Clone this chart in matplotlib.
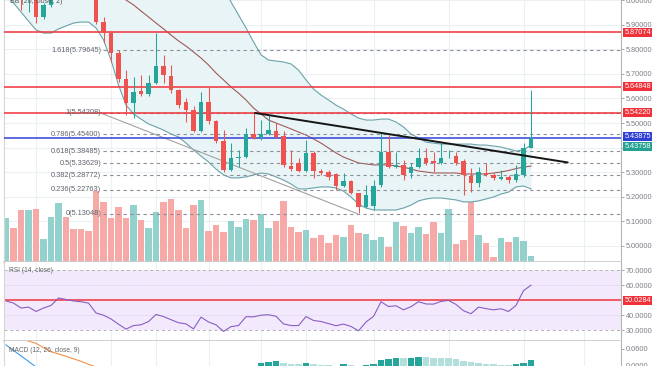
import numpy as np
import matplotlib
matplotlib.use("Agg")
import matplotlib.pyplot as plt
from matplotlib.transforms import blended_transform_factory, Affine2D
from matplotlib.ticker import FixedLocator, FuncFormatter

plt.rcParams['font.family'] = ['Liberation Sans', 'DejaVu Sans']

# ---------------- data ----------------
opens = [6.03, 6.06, 6.04, 6.01, 6.04, 5.934, 5.982, 6.03, 6.08, 6.07,
         6.06, 6.05, 6.03, 5.914, 5.866, 5.784, 5.678, 5.580, 5.630, 5.618,
         5.665, 5.734, 5.692, 5.636, 5.587, 5.553, 5.469, 5.585, 5.508, 5.426,
         5.310, 5.358, 5.360, 5.456, 5.440, 5.455, 5.469, 5.447, 5.326, 5.338,
         5.304, 5.376, 5.306, 5.299, 5.291, 5.241, 5.262, 5.213, 5.158, 5.160,
         5.245, 5.383, 5.322, 5.330, 5.295, 5.322, 5.356, 5.345, 5.336, 5.364,
         5.366, 5.344, 5.285, 5.256, 5.295, 5.288, 5.272, 5.281, 5.267, 5.288,
         5.397]
closes = [6.06, 6.02, 6.01, 6.04, 5.934, 5.982, 6.03, 6.08, 6.07, 6.06,
          6.05, 6.03, 5.914, 5.866, 5.784, 5.678, 5.580, 5.628, 5.618, 5.665,
          5.734, 5.696, 5.634, 5.575, 5.553, 5.469, 5.585, 5.508, 5.426, 5.310,
          5.358, 5.361, 5.456, 5.440, 5.455, 5.470, 5.443, 5.328, 5.312, 5.304,
          5.376, 5.304, 5.295, 5.281, 5.241, 5.262, 5.213, 5.158, 5.207, 5.243,
          5.383, 5.322, 5.330, 5.288, 5.322, 5.356, 5.336, 5.336, 5.356, 5.367,
          5.336, 5.288, 5.256, 5.301, 5.288, 5.274, 5.281, 5.267, 5.290, 5.397,
          5.438]
highs = [6.08, 6.07, 6.05, 6.05, 6.05, 5.99, 6.05, 6.10, 6.09, 6.08,
         6.07, 6.06, 6.04, 5.934, 5.870, 5.798, 5.716, 5.689, 5.696, 5.696,
         5.866, 5.777, 5.737, 5.640, 5.600, 5.569, 5.628, 5.646, 5.511, 5.471,
         5.417, 5.390, 5.478, 5.540, 5.511, 5.532, 5.499, 5.467, 5.390, 5.356,
         5.430, 5.385, 5.314, 5.308, 5.295, 5.295, 5.268, 5.216, 5.247, 5.267,
         5.458, 5.451, 5.383, 5.350, 5.335, 5.397, 5.397, 5.383, 5.417, 5.390,
         5.383, 5.352, 5.315, 5.322, 5.335, 5.295, 5.308, 5.288, 5.328, 5.417,
         5.635]
lows = [6.01, 6.005, 5.961, 5.954, 5.907, 5.925, 5.975, 6.02, 6.05, 6.05,
        6.04, 6.02, 5.905, 5.825, 5.750, 5.669, 5.533, 5.519, 5.612, 5.612,
        5.661, 5.664, 5.621, 5.560, 5.505, 5.463, 5.463, 5.497, 5.417, 5.302,
        5.305, 5.322, 5.356, 5.436, 5.430, 5.452, 5.440, 5.322, 5.306, 5.300,
        5.300, 5.274, 5.288, 5.267, 5.227, 5.238, 5.209, 5.131, 5.152, 5.145,
        5.240, 5.315, 5.315, 5.267, 5.275, 5.316, 5.329, 5.302, 5.333, 5.356,
        5.329, 5.206, 5.220, 5.240, 5.284, 5.267, 5.267, 5.254, 5.260, 5.281,
        5.397]
volumes = [44, 34, 52, 52, 53, 23, 45, 59, 45, 33,
           33, 31, 71, 60, 44, 55, 44, 57, 42, 34,
           50, 60, 63, 52, 34, 57, 62, 31, 37, 30,
           41, 35, 43, 42, 48, 34, 41, 61, 35, 30,
           32, 24, 27, 19, 27, 25, 37, 29, 28, 22,
           25, 15, 40, 36, 29, 35, 28, 40, 29, 53,
           18, 22, 60, 27, 19, 5, 24, 20, 25, 21, 6]
bb_upper = [6.31, 6.31, 6.32, 6.32, 6.32, 6.32, 6.32, 6.31, 6.31, 6.31,
            6.31, 6.31, 6.31, 6.31, 6.31, 6.31, 6.31, 6.31, 6.31, 6.31,
            6.31, 6.31, 6.30, 6.30, 6.28, 6.25, 6.21, 6.156, 6.102, 6.048,
            5.994, 5.941, 5.888, 5.831, 5.778, 5.757, 5.753, 5.749, 5.741, 5.716,
            5.676, 5.639, 5.614, 5.594, 5.573, 5.557, 5.537, 5.520, 5.512, 5.512,
            5.516, 5.516, 5.504, 5.484, 5.455, 5.439, 5.422, 5.418, 5.414, 5.414,
            5.414, 5.414, 5.414, 5.410, 5.410, 5.406, 5.402, 5.394, 5.386, 5.390,
            5.410]
bb_basis = [6.10, 6.10, 6.10, 6.10, 6.10, 6.09, 6.09, 6.09, 6.09, 6.09,
            6.08, 6.08, 6.07, 6.06, 6.04, 6.02, 6.002, 5.982, 5.957, 5.933,
            5.908, 5.884, 5.859, 5.835, 5.814, 5.790, 5.765, 5.737, 5.704, 5.676,
            5.647, 5.622, 5.594, 5.561, 5.537, 5.512, 5.500, 5.488, 5.476, 5.463,
            5.451, 5.435, 5.418, 5.398, 5.378, 5.361, 5.349, 5.337, 5.333, 5.329,
            5.329, 5.329, 5.324, 5.320, 5.312, 5.304, 5.300, 5.296, 5.296, 5.296,
            5.296, 5.292, 5.292, 5.292, 5.292, 5.296, 5.300, 5.306, 5.314, 5.320,
            5.324]
bb_lower = [6.022, 5.990, 5.953, 5.916, 5.880, 5.867, 5.867, 5.884, 5.896, 5.908,
            5.912, 5.912, 5.888, 5.839, 5.757, 5.655, 5.573, 5.537, 5.516, 5.496,
            5.484, 5.471, 5.455, 5.443, 5.418, 5.390, 5.365, 5.341, 5.312, 5.288,
            5.276, 5.276, 5.280, 5.288, 5.296, 5.292, 5.280, 5.267, 5.251, 5.231,
            5.231, 5.235, 5.239, 5.239, 5.235, 5.222, 5.198, 5.169, 5.153, 5.145,
            5.145, 5.145, 5.145, 5.153, 5.165, 5.182, 5.190, 5.194, 5.194, 5.190,
            5.186, 5.178, 5.178, 5.182, 5.190, 5.198, 5.210, 5.218, 5.239, 5.243,
            5.231]
rsi = [49.5, 48.1, 44.8, 45.4, 42.5, 44.8, 46.5, 51.5, 50.5, 49.5,
       49.0, 48.1, 41.5, 40.0, 37.5, 34.0, 30.7, 33.1, 33.6, 35.8,
       40.5, 39.1, 37.0, 35.0, 34.2, 30.9, 38.7, 35.5, 33.6, 29.2,
       32.4, 33.1, 39.0, 38.9, 40.0, 40.3, 39.3, 34.2, 33.1, 33.1,
       39.1, 36.5, 35.8, 34.4, 33.0, 34.1, 32.5, 29.6, 35.5, 39.2,
       49.0, 45.8, 46.3, 43.6, 45.7, 49.0, 47.5, 47.4, 49.2, 49.9,
       47.2, 43.0, 41.0, 45.4, 44.4, 43.6, 44.3, 42.5, 46.5, 56.4, 60.0]
macd_line = [0.0745, 0.0549, 0.0353, 0.0156, -0.004, -0.018, -0.028, -0.032, -0.036, -0.040,
             -0.044, -0.049, -0.060, -0.072, -0.086, -0.102, -0.118, -0.126, -0.132, -0.133,
             -0.128, -0.126, -0.127, -0.130, -0.133, -0.140, -0.134, -0.134, -0.139, -0.150,
             -0.152, -0.150, -0.140, -0.131, -0.122, -0.113, -0.107, -0.110, -0.112, -0.113,
             -0.108, -0.109, -0.109, -0.110, -0.113, -0.111, -0.113, -0.118, -0.115, -0.108,
             -0.093, -0.086, -0.079, -0.077, -0.072, -0.065, -0.061, -0.058, -0.054, -0.050,
             -0.049, -0.052, -0.056, -0.055, -0.055, -0.056, -0.056, -0.057, -0.055, -0.046,
             -0.035]
macd_signal = [0.110, 0.103, 0.096, 0.088, 0.080, 0.0647, 0.0505, 0.0422, 0.0338, 0.0251,
               0.0160, 0.0051, -0.004, -0.015, -0.027, -0.040, -0.055, -0.069, -0.081, -0.091,
               -0.099, -0.104, -0.109, -0.112, -0.115, -0.120, -0.122, -0.124, -0.127, -0.131,
               -0.135, -0.138, -0.139, -0.138, -0.135, -0.131, -0.127, -0.124, -0.121, -0.119,
               -0.117, -0.115, -0.114, -0.113, -0.113, -0.112, -0.112, -0.113, -0.113, -0.112,
               -0.109, -0.105, -0.101, -0.097, -0.093, -0.089, -0.085, -0.081, -0.077, -0.073,
               -0.069, -0.066, -0.064, -0.063, -0.062, -0.061, -0.060, -0.058, -0.055, -0.053,
               -0.049]
macd_hist = [-0.036, -0.048, -0.061, -0.072, -0.084, -0.083, -0.079, -0.074, -0.070, -0.065,
             -0.060, -0.054, -0.056, -0.057, -0.059, -0.062, -0.063, -0.057, -0.051, -0.042,
             -0.029, -0.022, -0.018, -0.018, -0.018, -0.021, -0.012, -0.010, -0.012, -0.019,
             -0.017, -0.011, -0.003, -0.001, 0.0091, 0.0149, 0.0164, 0.0091, 0.0065, 0.0055,
             0.0113, 0.0055, 0.0029, 0.0011, 0.0003, 0.0047, 0.0011, 0.0003, 0.0011, 0.0065,
             0.0193, 0.0247, 0.0284, 0.0262, 0.0284, 0.0320, 0.0302, 0.0284, 0.0276, 0.0273,
             0.0229, 0.0164, 0.0120, 0.0095, 0.0073, 0.0058, 0.0040, 0.0029, 0.0058, 0.0113,
             0.0193]

fib_ratios = ['1.618', '1', '0.786', '0.618', '0.5', '0.382', '0.236', '0']
fib_prices = [5.79645, 5.54208, 5.45400, 5.38485, 5.33629, 5.28772, 5.22763, 5.13048]
red_levels = [5.87074, 5.64848, 5.54220]
blue_level = 5.43875
last_price = 5.43758
rsi_mid_level = 50.0284
trend_x = [33.2, 74.9]
trend_y = [5.541, 5.339]
fib_trend_x = [12.5, 46.8]
fib_trend_y = [5.54208, 5.13048]
fib_start = 12.9
price_ticks = [5.0, 5.1, 5.2, 5.3, 5.4, 5.5, 5.6, 5.7, 5.8, 5.9, 6.0]
rsi_ticks = [30, 40, 60, 70]
macd_ticks = [0.0, 0.06]
time_grid = [4, 14, 20, 27, 34, 40, 49, 59, 69, 77]

# ---------------- styling ----------------
UP, DN = '#26a69a', '#ef5350'
UPV, DNV = '#93d2cc', '#f7a9a7'
GRID = '#eceff3'
LBL = '#7b7e87'
FS = 5.3
RED = '#f0313a'

W, H = 654, 366
fig = plt.figure(figsize=(W / 100, H / 100), dpi=100)
fig.patch.set_facecolor('white')
X0, X1 = 4, 621


def ax_rect(top, bottom):
    return [X0 / W, 1 - bottom / H, (X1 - X0) / W, (bottom - top) / H]


ax = fig.add_axes(ax_rect(0, 262))
ax_rsi = fig.add_axes(ax_rect(262, 341))
ax_macd = fig.add_axes(ax_rect(341, 366))

n = len(closes)
idx = np.arange(n)
o = np.array(opens); c = np.array(closes)
hi = np.array(highs); lo = np.array(lows)
up = c >= o
XLIM = (-0.27, 82.0)

for a in (ax, ax_rsi, ax_macd):
    a.set_xlim(*XLIM)
    a.xaxis.set_major_locator(FixedLocator(time_grid))
    a.tick_params(axis='x', length=0, labelbottom=False)
    a.grid(axis='x', color=GRID, lw=0.8, zorder=0)
    a.yaxis.tick_right()
    a.tick_params(axis='y', length=2.2, width=0.6, color='#9a9a9a',
                  labelsize=FS, labelcolor=LBL, pad=1.4)
    a.spines['top'].set_visible(False)
    a.spines['left'].set_color('#d6d6d6')
    a.spines['right'].set_color('#b5b5b5')
    a.spines['bottom'].set_color('#cccccc')
    a.spines['bottom'].set_linewidth(1.3)
    a.set_axisbelow(True)
ax_macd.spines['bottom'].set_visible(False)

# ---------------- main pane ----------------
ax.set_ylim(4.9327, 6.002)
ax.yaxis.set_major_locator(FixedLocator(price_ticks))
ax.yaxis.set_major_formatter(FuncFormatter(
    lambda v, p: '' if abs(v - 5.4) < 1e-9 else f'{v:.5f}'))
ax.grid(axis='y', color=GRID, lw=0.8, zorder=0)

# Bollinger bands
ax.fill_between(idx, bb_lower, bb_upper, color='#e9f4f6', lw=0, zorder=1)
ax.plot(idx, bb_upper, color='#6aa3aa', lw=0.8, zorder=3)
ax.plot(idx, bb_lower, color='#6aa3aa', lw=0.8, zorder=3)
ax.plot(idx, bb_basis, color='#a05a58', lw=0.8, zorder=3)

# volume, scaled against the pane height
vol_span = 262.0
vol_tr = blended_transform_factory(ax.transData,
                                   Affine2D().scale(1, 1 / vol_span) + ax.transAxes)
ax.bar(idx, volumes, width=0.9, color=np.where(up, UPV, DNV), lw=0,
       transform=vol_tr, zorder=2)

# fibonacci levels
for r, p in zip(fib_ratios, fib_prices):
    ax.plot([fib_start, XLIM[1]], [p, p], color='#8d9099', lw=0.8,
            ls=(0, (3, 3)), zorder=4)
    ax.annotate(f'{r}({p:.5f})', xy=(fib_start, p), xytext=(-1.2, 0),
                textcoords='offset points', ha='right', va='center',
                fontsize=FS, color='#5f626b', zorder=9)
ax.plot(fib_trend_x, fib_trend_y, color='#a3a3a3', lw=0.8, zorder=3)

# horizontal levels
for p in red_levels:
    ax.axhline(p, color=RED, lw=1.1, zorder=4)
ax.axhline(blue_level, color='#3142d6', lw=1.1, zorder=4)

# candles
col = np.where(up, UP, DN)
ax.vlines(idx, lo, hi, colors=col, lw=0.75, zorder=6)
ax.bar(idx, np.maximum(np.abs(c - o), 0.0025), bottom=np.minimum(o, c),
       width=0.64, color=col, lw=0, zorder=7)

# trend line
ax.plot(trend_x, trend_y, color='#151515', lw=1.4, zorder=8,
        solid_capstyle='round')


def price_tag(axis, value, text, fc, dy_px=0.0):
    axis.annotate(text, xy=(1.0, value), xycoords=axis.get_yaxis_transform(),
                  xytext=(2.4, dy_px * 0.72), textcoords='offset points',
                  ha='left', va='center', fontsize=FS, color='white',
                  bbox=dict(boxstyle='square,pad=0.15', fc=fc, ec='none'),
                  annotation_clip=False, zorder=20)


for p in red_levels:
    price_tag(ax, p, f'{p:.5f}', RED)
price_tag(ax, blue_level, f'{blue_level:.5f}', '#2f3fd6', dy_px=1.5)
price_tag(ax, last_price, f'{last_price:.5f}', '#23a192', dy_px=-8.5)

# ---------------- RSI pane ----------------
ax_rsi.set_ylim(22.8, 75.5)
ax_rsi.yaxis.set_major_locator(FixedLocator(rsi_ticks))
ax_rsi.yaxis.set_major_formatter(FuncFormatter(lambda v, p: f'{v:.4f}'))
ax_rsi.axhspan(30, 70, color='#f2eafc', lw=0, zorder=0.5)
for lev in (40, 60):
    ax_rsi.axhline(lev, color='#e6ddf3', lw=0.7, zorder=0.6)
for lev in (70, 30):
    ax_rsi.axhline(lev, color='#b3b3b3', lw=0.7, ls=(0, (3, 3)), zorder=1)
ax_rsi.axhline(rsi_mid_level, color=RED, lw=1.1, zorder=2)
ax_rsi.plot(idx, rsi, color='#8a5cc4', lw=0.8, zorder=3)
price_tag(ax_rsi, rsi_mid_level, f'{rsi_mid_level:.4f}', RED)

# ---------------- MACD pane ----------------
ax_macd.set_ylim(-0.0007, 0.0884)
ax_macd.yaxis.set_major_locator(FixedLocator(macd_ticks))
ax_macd.yaxis.set_major_formatter(FuncFormatter(lambda v, p: f'{v:.4f}'))
hist = np.array(macd_hist)
prev = np.concatenate([[hist[0]], hist[:-1]])
hcol = np.where(hist >= 0,
                np.where(hist >= prev, '#26a69a', '#b2dfdb'),
                np.where(hist <= prev, '#ff5252', '#ffcdd2'))
ax_macd.bar(idx, hist, width=0.9, color=hcol, lw=0, zorder=2)
ax_macd.plot(idx, macd_line, color='#3c9be6', lw=0.8, zorder=3)
ax_macd.plot(idx, macd_signal, color='#f39048', lw=0.8, zorder=3)

# pane titles
fig.text(10 / W, 1 - 1.5 / H, 'BB (20, close, 2)', fontsize=FS - 0.3,
         color='#555555', va='center')
fig.text(9 / W, 1 - 270.5 / H, 'RSI (14, close)', fontsize=FS - 0.5,
         color='#666666', va='center')
fig.text(9 / W, 1 - 350 / H, 'MACD (12, 26, close, 9)', fontsize=FS - 0.5,
         color='#666666', va='center')

fig.savefig('out.png', dpi=100, facecolor='white')
